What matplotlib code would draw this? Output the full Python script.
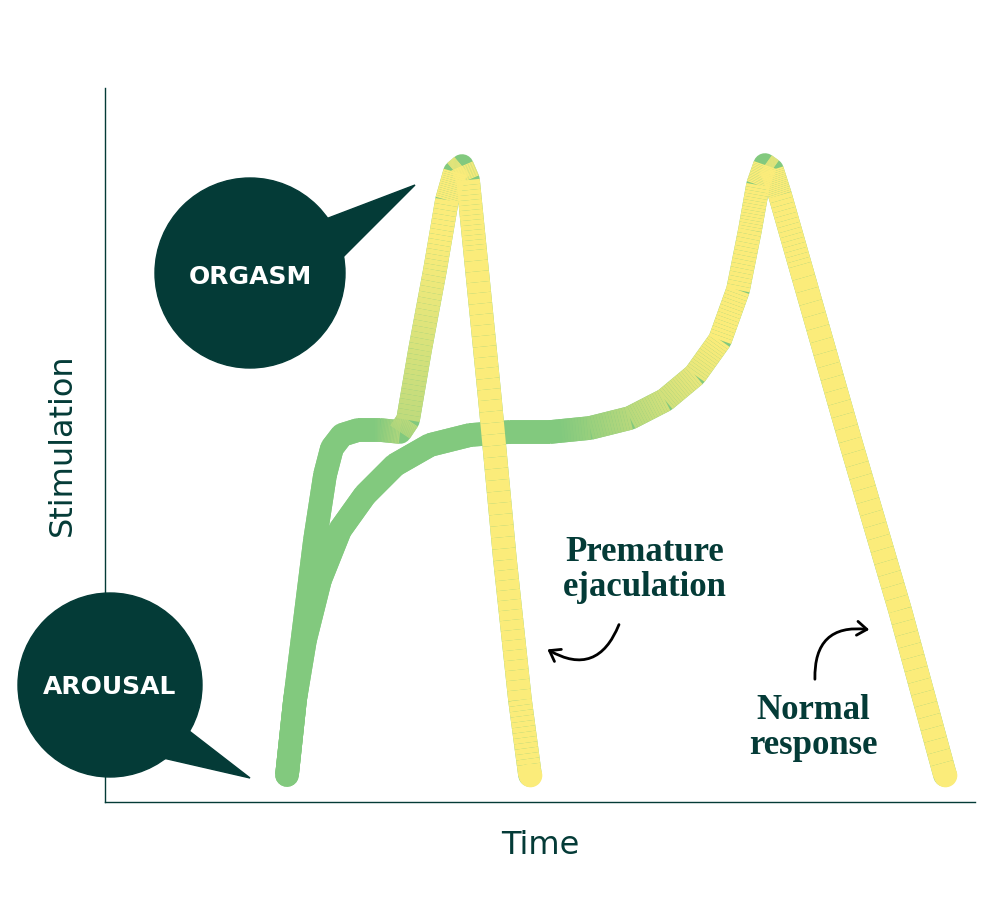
import numpy as np
import matplotlib
matplotlib.use('Agg')
import matplotlib.pyplot as plt
from matplotlib.collections import LineCollection
from matplotlib.patches import Circle, Polygon, FancyArrowPatch
from matplotlib.colors import to_rgb

DARK = '#043b37'
GREEN = '#82c97e'
YELLOW = '#fbec7a'

# curve shapes (pixel coordinates)
premature_x = [287, 295, 305, 315, 325, 332, 342, 358, 380, 400, 408, 420, 435, 447, 455, 462, 468, 475, 490, 505, 520, 530]
premature_y = [775, 700, 620, 540, 475, 448, 435, 430, 430, 432, 420, 350, 270, 200, 172, 166, 180, 250, 400, 560, 700, 775]
normal_x = [287, 295, 305, 320, 340, 365, 395, 430, 470, 510, 550, 590, 630, 665, 695, 720, 738, 750, 758, 765, 772, 780, 800, 850, 900, 945]
normal_y = [775, 700, 640, 580, 530, 495, 465, 445, 435, 432, 432, 428, 418, 400, 375, 340, 290, 230, 185, 165, 170, 195, 265, 440, 610, 775]

fig = plt.figure(figsize=(9.87, 9.07), dpi=100)
ax = fig.add_axes([0, 0, 1, 1])
ax.set_xlim(0, 987)
ax.set_ylim(907, 0)
ax.axis('off')

# axes lines
ax.plot([105, 105], [88, 802], color=DARK, lw=1)
ax.plot([105, 975], [802, 802], color=DARK, lw=1)
ax.text(540, 845, 'Time', color=DARK, fontsize=23, ha='center', va='center', family='DejaVu Sans')
ax.text(62, 445, 'Stimulation', color=DARK, fontsize=23, ha='center', va='center', rotation=90, family='DejaVu Sans')


def gradient_curve(xs, ys, x0, x1, z):
    xs = np.array(xs, float)
    ys = np.array(ys, float)
    g, y = np.array(to_rgb(GREEN)), np.array(to_rgb(YELLOW))
    # base stroke so joins stay smooth
    ax.plot(xs, ys, color=GREEN, lw=17, solid_capstyle='round', solid_joinstyle='round', zorder=z)
    # finer pieces only for the colour ramp
    t = np.linspace(0, 1, 15)[:, None]
    fx = np.concatenate([(xs[i] + (xs[i + 1] - xs[i]) * t).ravel() for i in range(len(xs) - 1)])
    fy = np.concatenate([(ys[i] + (ys[i + 1] - ys[i]) * t).ravel() for i in range(len(xs) - 1)])
    pts = np.column_stack([fx, fy]).reshape(-1, 1, 2)
    segs = np.concatenate([pts[:-1], pts[1:]], axis=1)
    mid = (fx[:-1] + fx[1:]) / 2
    frac = np.maximum.accumulate(np.clip((mid - x0) / (x1 - x0), 0, 1))
    cols = [g + (y - g) * f for f in frac]
    lc = LineCollection(segs, colors=cols, linewidths=17, capstyle='butt', joinstyle='round', zorder=z)
    ax.add_collection(lc)
    # round ends
    ax.plot(fx[-1], fy[-1], 'o', ms=17, color=cols[-1], mew=0, zorder=z)


gradient_curve(normal_x, normal_y, 560, 720, 2)
gradient_curve(premature_x, premature_y, 375, 440, 3)

# speech bubbles
ax.add_patch(Circle((250, 273), 95, color=DARK, zorder=4))
ax.add_patch(Polygon([[310, 225], [415, 185], [335, 265]], color=DARK, zorder=4))
ax.text(250, 277, 'ORGASM', color='white', fontsize=18, fontweight='bold', ha='center', va='center', zorder=5)
ax.add_patch(Circle((110, 685), 92, color=DARK, zorder=4))
ax.add_patch(Polygon([[175, 720], [250, 778], [150, 755]], color=DARK, zorder=4))
ax.text(110, 687, 'AROUSAL', color='white', fontsize=18, fontweight='bold', ha='center', va='center', zorder=5)

# annotations
ax.text(645, 570, 'Premature\nejaculation', color=DARK, fontsize=25, ha='center', va='center',
        family='Liberation Serif', fontweight='bold', linespacing=1.05)
ax.text(813, 728, 'Normal\nresponse', color=DARK, fontsize=25, ha='center', va='center',
        family='Liberation Serif', fontweight='bold', linespacing=1.05)
ax.add_patch(FancyArrowPatch((620, 622), (545, 648), connectionstyle='arc3,rad=-0.6',
                             arrowstyle='->,head_length=7,head_width=5', lw=2, color='black', zorder=6))
ax.add_patch(FancyArrowPatch((815, 682), (872, 630), connectionstyle='arc3,rad=-0.6',
                             arrowstyle='->,head_length=7,head_width=5', lw=2, color='black', zorder=6))

fig.savefig('out.png', dpi=100, facecolor='white')
